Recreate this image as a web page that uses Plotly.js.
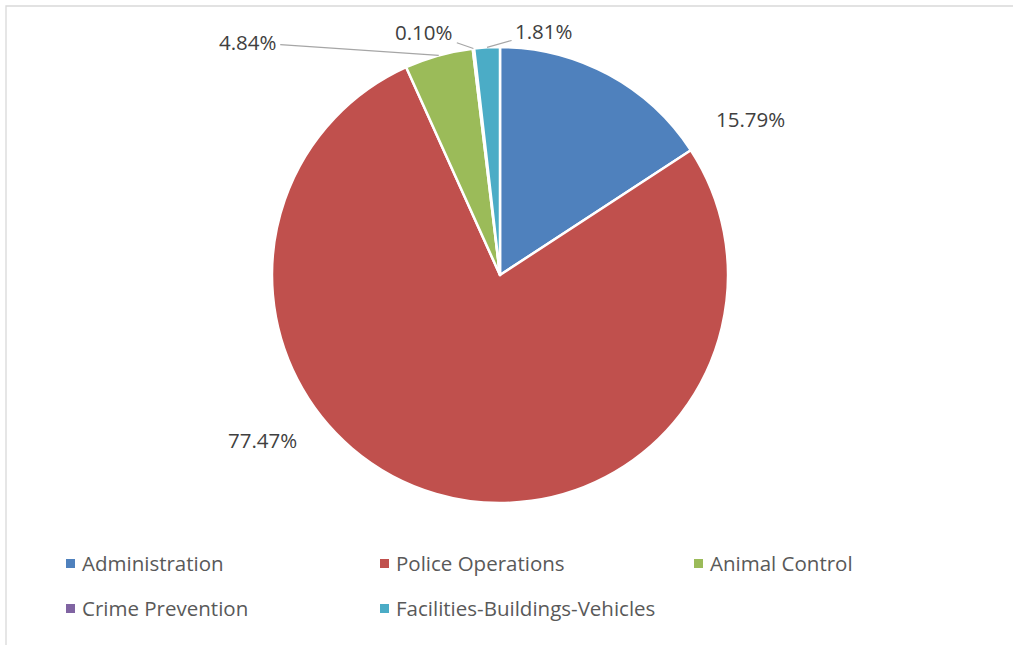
<!DOCTYPE html>
<html>
<head>
<meta charset="utf-8">
<script src="https://cdn.plot.ly/plotly-3.0.1.min.js"></script>
<style>html,body{margin:0;padding:0;background:#fff;}#chart{width:1013px;height:645px;}</style>
</head>
<body>
<div id="chart"></div>
<script>
// ---- data ----
const categories = ["Administration", "Police Operations", "Animal Control", "Crime Prevention", "Facilities-Buildings-Vehicles"];
const shares = [15.79, 77.47, 4.84, 0.10, 1.81];
const colors = ["#4F81BD", "#C0504D", "#9BBB59", "#8064A2", "#4BACC6"];

// ---- layout constants (pixels) ----
const W = 1013, H = 645;
const cx = 500, cy = 275, R = 228;
const FONT = "Open Sans, Noto Sans, sans-serif";
// label text offsets from slice edge point (pixels)
const labelOffsets = [[142, 45], [-174, -54], [-191, -13], [-49, -17], [57, -16]];
const leader = [false, false, true, true, true];

const total = shares.reduce((a, b) => a + b, 0);
const px = x => x / W, py = y => 1 - y / H;

const annotations = [];
let cum = 0;
shares.forEach((v, i) => {
  const mid = (cum + v / 2) / total;
  cum += v;
  const th = mid * 2 * Math.PI;
  const ex = cx + R * Math.sin(th), ey = cy - R * Math.cos(th);
  annotations.push({
    x: px(ex), y: py(ey), xref: "paper", yref: "paper",
    ax: labelOffsets[i][0], ay: labelOffsets[i][1], axref: "pixel", ayref: "pixel",
    text: v.toFixed(2) + "%",
    showarrow: true, arrowhead: 0, arrowwidth: 1.2, arrowcolor: leader[i] ? "#A6A6A6" : "rgba(0,0,0,0)",
    standoff: 0, startstandoff: 2,
    font: {family: FONT, size: 20.5, color: "#404040"}
  });
});

// custom legend (3 columns, 2 rows)
const shapes = [{
  type: "rect", xref: "paper", yref: "paper",
  x0: px(6), y0: py(6), x1: px(W + 20), y1: py(H + 20),
  line: {color: "#D9D9D9", width: 1.3}, fillcolor: "rgba(0,0,0,0)"
}];
const legCol0 = 66, legColStep = 314, legRow0 = 563.5, legRowStep = 45, sq = 9;
categories.forEach((c, i) => {
  const col = i % 3, row = Math.floor(i / 3);
  const x0 = legCol0 + col * legColStep, yc = legRow0 + row * legRowStep;
  shapes.push({
    type: "rect", xref: "paper", yref: "paper",
    x0: px(x0), x1: px(x0 + sq), y0: py(yc - sq / 2), y1: py(yc + sq / 2),
    line: {width: 0}, fillcolor: colors[i]
  });
  annotations.push({
    x: px(x0 + sq + 5), y: py(yc - 1), xref: "paper", yref: "paper",
    xanchor: "left", yanchor: "middle", showarrow: false,
    text: c, font: {family: FONT, size: 20.5, color: "#595959"}
  });
});

const trace = {
  type: "pie",
  labels: categories,
  values: shares,
  sort: false,
  direction: "clockwise",
  rotation: 0,
  textinfo: "none",
  hoverinfo: "label+percent",
  marker: {colors: colors, line: {color: "#FFFFFF", width: 2.5}},
  domain: {x: [px(cx - R), px(cx + R)], y: [py(cy + R), py(cy - R)]}
};

Plotly.newPlot("chart", [trace], {
  width: W, height: H,
  margin: {l: 0, r: 0, t: 0, b: 0},
  showlegend: false,
  paper_bgcolor: "#FFFFFF",
  font: {family: FONT},
  annotations: annotations,
  shapes: shapes
}, {displayModeBar: false, staticPlot: true});
</script>
</body>
</html>
